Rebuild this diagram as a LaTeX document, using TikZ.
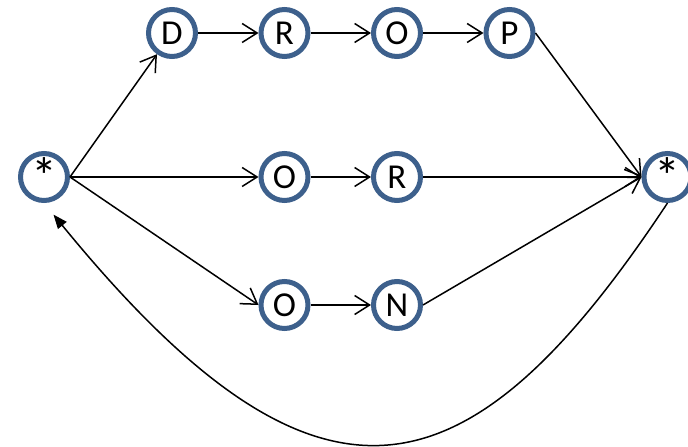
\documentclass[tikz,border=0pt]{standalone}
\usepackage{fontspec}
\setmainfont{Carlito}
\usetikzlibrary{matrix,arrows.meta}

\definecolor{ringblue}{RGB}{61,96,140}

\begin{document}
\begin{tikzpicture}[x=1pt,y=1pt,
	letter/.style={circle, draw=ringblue, line width=5pt, fill=white, minimum size=47pt, inner sep=0pt, anchor=center, text height=22.5pt, text depth=0pt},
	wild/.style={font=\fontsize{52pt}{56pt}\selectfont, text height=36pt}]
\useasboundingbox (0,0) rectangle (688,447);
\matrix (m) at (44,270) [matrix of nodes, matrix anchor=m-2-1.center, nodes={letter, font=\fontsize{35pt}{42pt}\selectfont}, column sep={112.5pt,between origins}, row sep={128pt,between origins}]
{
	&[15.5pt] D & R & O & P &[45.5pt] \\[16pt]
	|[wild]| * & & O & R & & |[wild]| * \\
	& & O & N & & \\
};
\path[-{Straight Barb[length=15pt,width=19pt]}, line width=1.5pt]
(m-2-1.east) edge (m-1-2)
(m-2-1.east) edge (m-2-3)
(m-2-1.east) edge (m-3-3.west)
(m-1-2) edge (m-1-3)
(m-1-3) edge (m-1-4)
(m-1-4) edge (m-1-5)
(m-2-3) edge (m-2-4)
(m-3-3) edge (m-3-4)
(m-1-5.east) edge (m-2-6.west)
(m-2-4) edge (m-2-6.west)
(m-3-4.east) edge (m-2-6.west);
\draw[-{Triangle[length=14pt,width=11pt]}, line width=1.5pt, shorten >=15pt]
(m-2-6.south) .. controls +(-198,-299) and +(277,-339) .. (m-2-1.south);
\end{tikzpicture}
\end{document}
